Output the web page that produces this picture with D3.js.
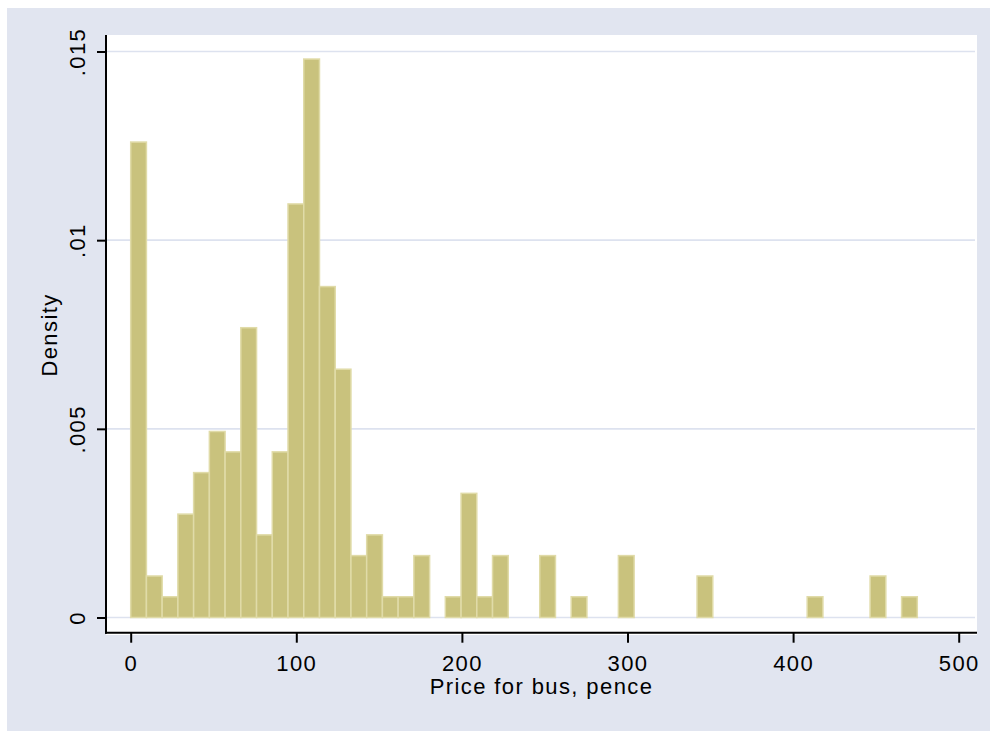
<!DOCTYPE html>
<html>
<head>
<meta charset="utf-8">
<script src="https://cdn.jsdelivr.net/npm/d3@7"></script>
<style>
  body { margin: 0; background: #fff; }
  text { font-family: "Liberation Sans", Arial, sans-serif; fill: #000; }
</style>
</head>
<body>
<div id="chart"></div>
<script>
// histogram bins (left edge, pence) and density
var binWidth = 9.5;
var binStart = [0, 9.5, 19, 28.5, 38, 47.5, 57, 66.5, 76, 85.5, 95, 104.5, 114, 123.5,
    133, 142.5, 152, 161.5, 171, 190, 199.5, 209, 218.5, 247, 266, 294.5, 342, 408.5,
    446.5, 465.5];
var density = [0.0126, 0.0011, 0.00055, 0.00274, 0.00384, 0.00493, 0.00439, 0.00768,
    0.00219, 0.00439, 0.01096, 0.0148, 0.00877, 0.00658, 0.00164, 0.00219, 0.00055,
    0.00055, 0.00164, 0.00055, 0.00329, 0.00055, 0.00164, 0.00164, 0.00055, 0.00164,
    0.0011, 0.00055, 0.0011, 0.00055];
var xTicks = [0, 100, 200, 300, 400, 500];
var yTicks = [0, 0.005, 0.01, 0.015];
var yTickLabels = ["0", ".005", ".01", ".015"];

var width = 990;
var height = 731;
var plot = {left: 106, top: 35, right: 977, bottom: 635};
var axisY = 632.7;

var x = d3.scaleLinear().domain([0, 500]).range([130.7, 958.7]);
var y = d3.scaleLinear().domain([0, 0.015]).range([617.5, 51.5]);

var svg = d3.select('#chart')
    .append('svg')
    .attr('width', width)
    .attr('height', height);

svg.append('rect')
    .attr('x', 7).attr('y', 8)
    .attr('width', width - 7).attr('height', height - 8)
    .attr('fill', '#e1e5f0');
svg.append('rect')
    .attr('x', plot.left).attr('y', plot.top)
    .attr('width', plot.right - plot.left).attr('height', plot.bottom - plot.top)
    .attr('fill', '#fff');

// grid lines
svg.append('g')
    .selectAll('line')
    .data(yTicks)
    .enter().append('line')
    .attr('x1', plot.left).attr('x2', plot.right - 2)
    .attr('y1', function (d) { return y(d); })
    .attr('y2', function (d) { return y(d); })
    .attr('stroke', '#dde2ef')
    .attr('stroke-width', 1.6);

// bars
var bars = binStart.map(function (s, i) {
    return {start: s, d: density[i]};
});
svg.append('g')
    .selectAll('rect')
    .data(bars)
    .enter().append('rect')
    .attr('x', function (b) { return x(b.start); })
    .attr('width', function (b) { return x(b.start + binWidth) - x(b.start); })
    .attr('y', function (b) { return y(b.d); })
    .attr('height', function (b) { return y(0) - y(b.d); })
    .attr('fill', '#c9c27d')
    .attr('stroke', '#e0dba8')
    .attr('stroke-width', 1.5);

// x axis
var xAxis = d3.axisBottom(x)
    .tickValues(xTicks)
    .tickFormat(d3.format('d'))
    .tickSize(10);
var gx = svg.append('g')
    .attr('transform', 'translate(0,' + axisY + ')')
    .call(xAxis);
gx.select('.domain').remove();
gx.selectAll('.tick line').attr('stroke', '#000').attr('stroke-width', 2);
gx.selectAll('.tick text')
    .attr('dy', null)
    .attr('y', 38)
    .style('font-size', '22px')
    .style('letter-spacing', '1.4px')
    .style('font-family', '"Liberation Sans", Arial, sans-serif');
svg.append('line')
    .attr('x1', plot.left - 1).attr('x2', plot.right)
    .attr('y1', axisY).attr('y2', axisY)
    .attr('stroke', '#000').attr('stroke-width', 2);

// y axis
var yAxis = d3.axisLeft(y)
    .tickValues(yTicks)
    .tickFormat(function (d, i) { return yTickLabels[i]; })
    .tickSize(9);
var gy = svg.append('g')
    .attr('transform', 'translate(' + plot.left + ',0)')
    .call(yAxis);
gy.select('.domain').remove();
gy.selectAll('.tick line').attr('stroke', '#000').attr('stroke-width', 2);
gy.selectAll('.tick text')
    .attr('x', null)
    .attr('dy', null)
    .attr('text-anchor', 'middle')
    .attr('transform', 'translate(-21,0) rotate(-90)')
    .style('font-size', '22px')
    .style('letter-spacing', '1.4px')
    .style('font-family', '"Liberation Sans", Arial, sans-serif');
svg.append('line')
    .attr('x1', plot.left).attr('x2', plot.left)
    .attr('y1', plot.top).attr('y2', axisY + 1)
    .attr('stroke', '#000').attr('stroke-width', 2);

// axis titles
svg.append('text')
    .attr('x', (plot.left + plot.right) / 2)
    .attr('y', 694.3)
    .attr('text-anchor', 'middle')
    .style('font-size', '22px')
    .style('letter-spacing', '1.4px')
    .text('Price for bus, pence');
svg.append('text')
    .attr('transform', 'translate(57.3,' + (plot.top + plot.bottom) / 2 + ') rotate(-90)')
    .attr('text-anchor', 'middle')
    .style('font-size', '22px')
    .style('letter-spacing', '1.4px')
    .text('Density');
</script>
</body>
</html>
